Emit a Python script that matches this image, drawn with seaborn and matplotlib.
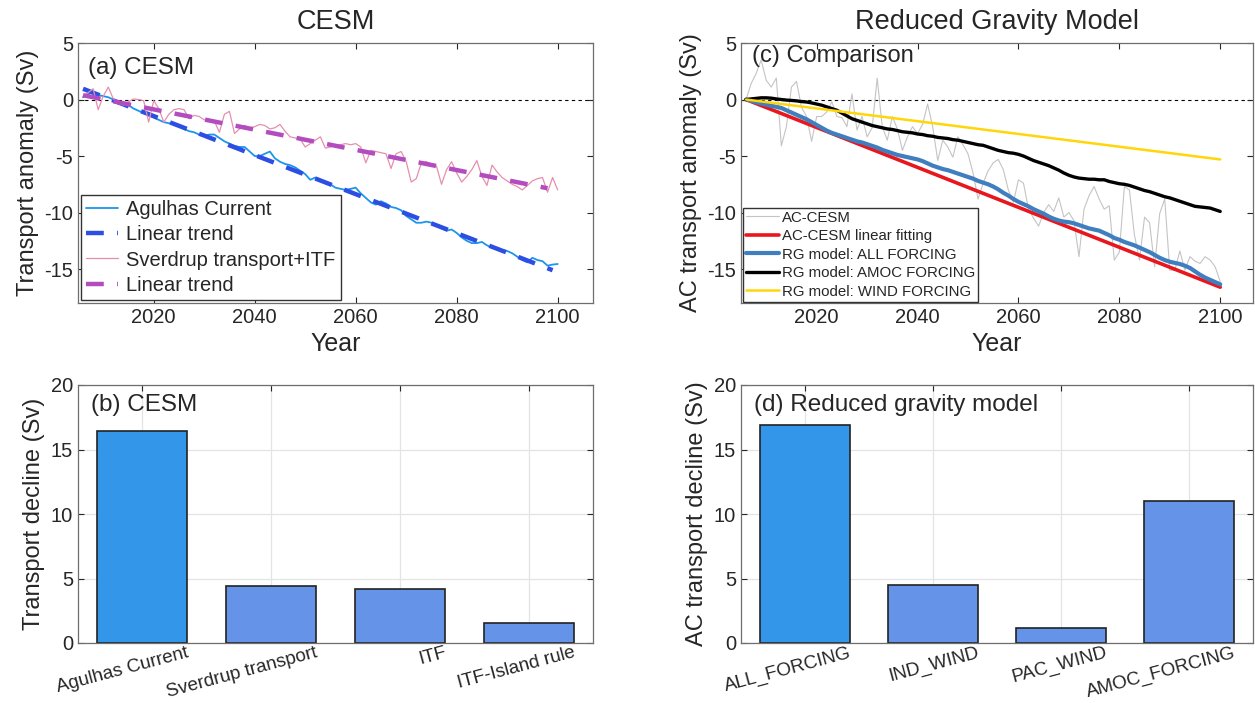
import numpy as np
import pandas as pd
import seaborn as sns
import matplotlib.pyplot as plt
import matplotlib.transforms as mtransforms

# ---- data ----
years = list(range(2006, 2101))

agulhas = [0.2, 0.5, 0.6, 0.4, 0.3, 0.2, 0.0, -0.3, -0.45, -0.5,
           -0.8, -1.0, -1.2, -1.4, -1.6, -1.8, -2.0, -2.1, -2.1, -2.3,
           -2.6, -2.8, -2.9, -3.1, -3.2, -3.1, -3.1, -3.4, -3.7, -3.9,
           -4.1, -4.2, -4.2, -4.6, -5.0, -5.0, -4.8, -4.6, -5.2, -5.5,
           -5.7, -5.8, -6.0, -6.3, -6.6, -7.1, -6.9, -7.1, -7.4, -7.5,
           -7.8, -7.9, -8.0, -7.9, -7.8, -8.3, -8.7, -9.1, -9.3, -9.0,
           -9.2, -9.5, -9.6, -9.8, -10.3, -10.6, -10.9, -10.9, -10.8, -10.9,
           -11.1, -11.4, -11.6, -11.5, -11.8, -12.2, -12.5, -12.7, -12.7, -12.6,
           -12.9, -13.1, -13.2, -13.3, -13.4, -13.6, -13.9, -14.2, -14.4, -14.0,
           -14.2, -14.3, -14.7, -14.6, -14.55]

sverdrup_itf = [0.3, 0.6, 0.95, -0.9, 0.3, 1.1, 0.05, -0.3, -0.5, -0.2,
                0.05, 0.0, -0.1, -2.0, -0.1, -0.8, -2.0, -1.3, -0.9, -0.8,
                -0.9, -1.7, -1.4, -1.5, -1.8, -1.8, -1.9, -2.9, -1.3, -1.05,
                -3.0, -2.6, -2.3, -2.5, -2.4, -2.2, -2.3, -2.6, -2.5, -2.2,
                -2.8, -3.3, -3.4, -3.5, -4.2, -3.9, -3.6, -3.3, -4.3, -4.2,
                -4.0, -4.0, -3.9, -4.0, -3.9, -4.2, -5.6, -4.5, -4.6, -4.7,
                -4.8, -6.1, -4.8, -4.6, -5.5, -7.3, -7.0, -5.6, -5.5, -5.7,
                -5.9, -7.5, -6.2, -5.5, -6.5, -7.3, -6.8, -6.2, -5.4, -6.8,
                -7.6, -5.8, -6.4, -6.9, -7.2, -7.5, -7.7, -8.0, -7.6, -7.2,
                -7.0, -6.9, -8.2, -6.9, -8.0]

# linear trends (end points)
ac_trend_years = [2006, 2099]
ac_trend = [0.95, -15.1]
sv_trend_years = [2006, 2098]
sv_trend = [0.38, -7.85]

ac_cesm = [0.0, 1.4, 2.3, 3.5, 1.7, 1.1, 1.9, -4.1, -2.4, 1.1,
           1.6, -0.7, -1.5, -3.7, -1.5, -1.5, -1.1, -0.2, -1.5, -1.6,
           -2.4, 0.5, -2.7, -1.5, -3.3, -2.5, 1.9, -2.4, -3.6, -1.5,
           -2.6, -4.5, -3.3, -2.4, -3.0, -2.2, -0.4, -2.4, -5.4, -3.6,
           -4.2, -5.1, -3.3, -4.0, -4.8, -6.5, -8.8, -7.4, -6.3, -5.6,
           -5.3, -6.2, -8.0, -9.1, -7.1, -7.4, -9.7, -10.5, -11.2, -10.0,
           -9.3, -9.9, -8.7, -10.4, -10.0, -10.7, -13.9, -9.7, -8.5, -7.7,
           -8.8, -9.7, -9.4, -14.2, -13.5, -7.7, -8.0, -12.0, -14.2, -10.4,
           -10.9, -14.8, -10.1, -8.8, -15.1, -15.1, -13.4, -15.1, -13.9, -14.3,
           -14.5, -13.9, -14.2, -14.8, -16.1]

fit_years = [2006, 2100]
ac_fit = [0.0, -16.6]

rg_all = [0.0, -0.1, -0.25, -0.35, -0.45, -0.55, -0.65, -0.75, -0.95, -1.15,
          -1.35, -1.55, -1.75, -2.0, -2.25, -2.5, -2.75, -2.95, -3.1, -3.25,
          -3.4, -3.55, -3.7, -3.8, -3.95, -4.1, -4.25, -4.45, -4.6, -4.75,
          -4.9, -5.0, -5.1, -5.2, -5.3, -5.45, -5.65, -5.85, -6.0, -6.15,
          -6.25, -6.4, -6.55, -6.7, -6.85, -7.0, -7.2, -7.35, -7.5, -7.7,
          -7.95, -8.25, -8.5, -8.8, -9.05, -9.25, -9.45, -9.7, -9.9, -10.1,
          -10.35, -10.55, -10.7, -10.8, -10.85, -10.95, -11.1, -11.25, -11.4, -11.5,
          -11.6, -11.8, -12.0, -12.25, -12.4, -12.6, -12.75, -12.9, -13.1, -13.3,
          -13.5, -13.75, -14.0, -14.2, -14.35, -14.45, -14.55, -14.7, -14.9, -15.2,
          -15.5, -15.75, -15.95, -16.15, -16.35]

rg_amoc = [0.0, 0.05, 0.1, 0.15, 0.15, 0.12, 0.05, 0.0, -0.05, -0.08,
           -0.12, -0.18, -0.22, -0.3, -0.4, -0.5, -0.65, -0.8, -0.95, -1.2,
           -1.45, -1.7, -1.85, -2.0, -2.15, -2.3, -2.4, -2.5, -2.6, -2.65,
           -2.75, -2.85, -2.9, -2.95, -3.05, -3.1, -3.2, -3.25, -3.35, -3.4,
           -3.45, -3.55, -3.6, -3.7, -3.8, -3.9, -4.0, -4.05, -4.2, -4.35,
           -4.5, -4.6, -4.7, -4.75, -4.85, -5.0, -5.2, -5.4, -5.55, -5.7,
           -5.85, -6.05, -6.25, -6.5, -6.7, -6.85, -6.95, -7.0, -7.05, -7.05,
           -7.1, -7.1, -7.25, -7.35, -7.45, -7.5, -7.6, -7.75, -7.9, -8.05,
           -8.15, -8.3, -8.45, -8.6, -8.7, -8.85, -9.0, -9.15, -9.3, -9.45,
           -9.5, -9.55, -9.6, -9.75, -9.9]

wind_years = [2006, 2100]
rg_wind = [0.0, -5.3]

cesm_cats = ["Agulhas Current", "Sverdrup transport", "ITF", "ITF-Island rule"]
cesm_decline = [16.45, 4.4, 4.2, 1.55]
rg_cats = ["ALL_FORCING", "IND_WIND", "PAC_WIND", "AMOC_FORCING"]
rg_decline = [16.9, 4.5, 1.15, 11.0]

# ---- style ----
sns.set_style("ticks")
plt.rcParams["font.family"] = ["Liberation Sans", "DejaVu Sans"]
plt.rcParams["axes.unicode_minus"] = False
plt.rcParams["axes.edgecolor"] = "#6e6e6e"
plt.rcParams["axes.linewidth"] = 0.9
plt.rcParams["xtick.color"] = "#262626"
plt.rcParams["ytick.color"] = "#262626"
plt.rcParams["xtick.direction"] = "in"
plt.rcParams["ytick.direction"] = "in"

fig = plt.figure(figsize=(12.55, 7.03), dpi=100)
W, H = 1255, 703


def rect(l, r, t, b):
    return [l / W, 1 - b / H, (r - l) / W, (b - t) / H]


ax_a = fig.add_axes(rect(78, 593, 43, 303))
ax_c = fig.add_axes(rect(741, 1253, 43, 303))
ax_b = fig.add_axes(rect(78, 593, 385, 643))
ax_d = fig.add_axes(rect(741, 1253, 385, 643))

tick_fs = 14.5
zero_ls = (0, (3, 3))

# ---- (a) ----
sns.lineplot(x=years, y=agulhas, ax=ax_a, color="#1c95ec", lw=1.3, label="Agulhas Current")
sns.lineplot(x=ac_trend_years, y=ac_trend, ax=ax_a, color="#2d4ee3", lw=3.2,
             linestyle=(0, (4, 3)), label="Linear trend")
sns.lineplot(x=years, y=sverdrup_itf, ax=ax_a, color="#e58fae", lw=0.9,
             label="Sverdrup transport+ITF")
sns.lineplot(x=sv_trend_years, y=sv_trend, ax=ax_a, color="#b24cbf", lw=3.2,
             linestyle=(0, (4, 3)), label="Linear trend")
ax_a.axhline(0, color="black", lw=0.8, ls=zero_ls, zorder=0)
ax_a.set_xlim(2005, 2107)
ax_a.set_ylim(-18, 5)
ax_a.set_yticks([5, 0, -5, -10, -15])
ax_a.set_xticks([2020, 2040, 2060, 2080, 2100])
ax_a.set_xlabel("Year", fontsize=18)
ax_a.set_ylabel("Transport anomaly (Sv)", fontsize=17)
ax_a.text(0.02, 0.905, "(a) CESM", transform=ax_a.transAxes, fontsize=17.5, va="center")
ax_a.legend(loc="lower left", fontsize=14.5, frameon=True, fancybox=False,
            edgecolor="#333333", framealpha=1, handlelength=1.6, handletextpad=0.4,
            labelspacing=0.32, borderpad=0.25, borderaxespad=0.15)

# ---- (c) ----
sns.lineplot(x=years, y=ac_cesm, ax=ax_c, color="#c4c4c4", lw=0.8, label="AC-CESM")
sns.lineplot(x=fit_years, y=ac_fit, ax=ax_c, color="#e8161d", lw=2.6,
             label="AC-CESM linear fitting")
sns.lineplot(x=years, y=rg_all, ax=ax_c, color="#3f7fbf", lw=3.0,
             label="RG model: ALL FORCING")
sns.lineplot(x=years, y=rg_amoc, ax=ax_c, color="black", lw=2.4,
             label="RG model: AMOC FORCING")
sns.lineplot(x=wind_years, y=rg_wind, ax=ax_c, color="#ffd60a", lw=1.8,
             label="RG model: WIND FORCING")
ax_c.axhline(0, color="black", lw=0.8, ls=zero_ls, zorder=0)
ax_c.set_xlim(2005, 2106.5)
ax_c.set_ylim(-18, 5)
ax_c.set_yticks([5, 0, -5, -10, -15])
ax_c.set_xticks([2020, 2040, 2060, 2080, 2100])
ax_c.set_xlabel("Year", fontsize=18)
ax_c.set_ylabel("AC transport anomaly (Sv)", fontsize=17)
ax_c.text(0.022, 0.95, "(c) Comparison", transform=ax_c.transAxes, fontsize=17, va="center")
ax_c.legend(loc="lower left", fontsize=10.8, frameon=True, fancybox=False,
            edgecolor="#333333", framealpha=1, handlelength=2.2, handletextpad=0.2,
            labelspacing=0.3, borderpad=0.2, borderaxespad=0.1)

# ---- bar panels ----
bar_cols = ["#3396e8", "#6593e8", "#6593e8", "#6593e8"]
df_b = pd.DataFrame({"cat": cesm_cats, "val": cesm_decline})
df_d = pd.DataFrame({"cat": rg_cats, "val": rg_decline})
sns.barplot(data=df_b, x="cat", y="val", hue="cat", palette=bar_cols, legend=False,
            width=0.7, saturation=1, edgecolor="#222222", linewidth=1.2, ax=ax_b)
sns.barplot(data=df_d, x="cat", y="val", hue="cat", palette=bar_cols, legend=False,
            width=0.7, saturation=1, edgecolor="#222222", linewidth=1.2, ax=ax_d)

for ax, lab, txt in [(ax_b, "Transport decline (Sv)", "(b) CESM"),
                     (ax_d, "AC transport decline (Sv)", "(d) Reduced gravity model")]:
    ax.set_xlim(-0.5, 3.5)
    ax.set_ylim(0, 20)
    ax.set_yticks([0, 5, 10, 15, 20])
    ax.set_xlabel("")
    ax.set_ylabel(lab, fontsize=17)
    ax.grid(True, color="#e4e4e4", lw=0.9)
    ax.set_axisbelow(True)
    ax.text(0.025, 0.922, txt, transform=ax.transAxes, fontsize=17.5, va="center")

for ax in [ax_a, ax_b, ax_c, ax_d]:
    ax.tick_params(labelsize=tick_fs, top=True, right=True, length=4, width=0.8)
    for s in ax.spines.values():
        s.set_visible(True)

# rotated bar labels: right end sits near the right edge of each bar
shift = mtransforms.ScaledTranslation(44 / 100, 0, fig.dpi_scale_trans)
for ax in [ax_b, ax_d]:
    ax.tick_params(axis="x", pad=1)
    for t in ax.get_xticklabels():
        t.set_rotation(15)
        t.set_rotation_mode("anchor")
        t.set_ha("right")
        t.set_va("top")
        t.set_fontsize(13.6)
        t.set_transform(t.get_transform() + shift)

fig.text((78 + 593) / 2 / W, 1 - 22 / H, "CESM", fontsize=19.5, ha="center", va="center")
fig.text((741 + 1253) / 2 / W, 1 - 22 / H, "Reduced Gravity Model", fontsize=19.5,
         ha="center", va="center")

fig.savefig("out.png", dpi=100)
